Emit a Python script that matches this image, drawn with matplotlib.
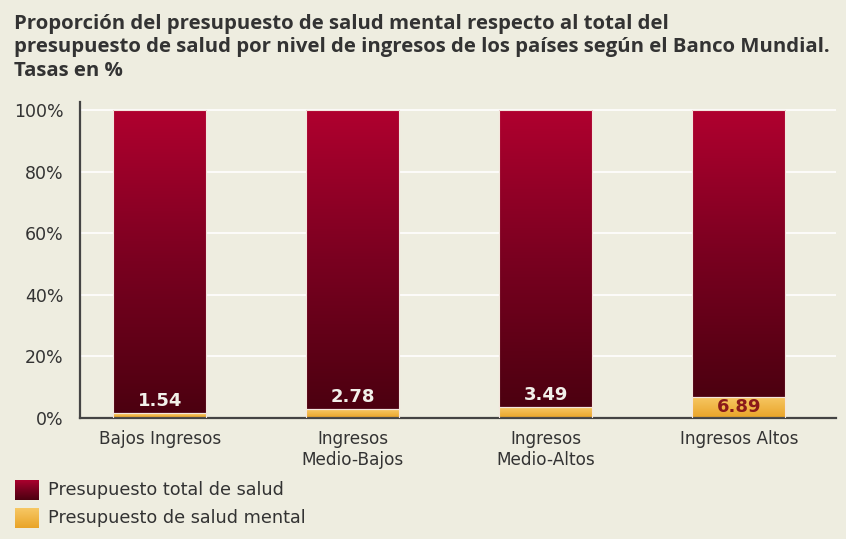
import matplotlib
matplotlib.use("Agg")
import matplotlib.pyplot as plt
import numpy as np
from matplotlib.colors import LinearSegmentedColormap
from matplotlib.patches import Rectangle

categories = ["Bajos Ingresos", "Ingresos\nMedio-Bajos", "Ingresos\nMedio-Altos", "Ingresos Altos"]
mental = [1.54, 2.78, 3.49, 6.89]
total = [100, 100, 100, 100]
yticks = [0, 20, 40, 60, 80, 100]
ytick_labels = ["0%", "20%", "40%", "60%", "80%", "100%"]
title = ("Proporción del presupuesto de salud mental respecto al total del\n"
         "presupuesto de salud por nivel de ingresos de los países según el Banco Mundial.\n"
         "Tasas en %")
legend_labels = ["Presupuesto total de salud", "Presupuesto de salud mental"]

bg = "#EEEDE0"
red_cmap = LinearSegmentedColormap.from_list("r", ["#4C0010", "#7A0020", "#B0002F"])
org_cmap = LinearSegmentedColormap.from_list("o", ["#E9A428", "#F7C865"])

plt.rcParams['font.family'] = ['DejaVu Sans']
fig = plt.figure(figsize=(8.46, 5.39), dpi=100, facecolor=bg)
ax = fig.add_axes([80/846, 1-418/539, 756/846, 316/539])
ax.set_facecolor(bg)

x = np.arange(len(categories))
w = 0.482
grad = np.linspace(0, 1, 256).reshape(-1, 1)

red_bars = ax.bar(x, [t - m for t, m in zip(total, mental)], w, bottom=mental,
                  color="none", edgecolor="none", zorder=3)
org_bars = ax.bar(x, mental, w, color="none", edgecolor="none", zorder=3)

for bars, cmap in ((red_bars, red_cmap), (org_bars, org_cmap)):
    for b in bars:
        x0, y0 = b.get_x(), b.get_y()
        x1, y1 = x0 + b.get_width(), y0 + b.get_height()
        im = ax.imshow(grad, cmap=cmap, origin="lower", aspect="auto",
                       extent=[x0, x1, y0, y1], zorder=2)
        im.set_clip_path(b)
        ax.add_patch(Rectangle((x0, y0), x1 - x0, y1 - y0, fill=False,
                               edgecolor="#F4E6DE", lw=0.8, zorder=4))

for i, m in enumerate(mental):
    if m > 5:
        ax.text(x[i], m / 2, f"{m:.2f}", ha="center", va="center",
                fontsize=13, fontweight="bold", color="#8A1A1A", zorder=5)
    else:
        ax.text(x[i], m + 4.0, f"{m:.2f}", ha="center", va="center",
                fontsize=13, fontweight="bold", color="#F2F0EA", zorder=5)

ax.set_xlim(-0.4145, 3.503)
ax.set_ylim(0, 102.6)
ax.set_yticks(yticks)
ax.set_yticklabels(ytick_labels, fontsize=12.5, color="#333333")
ax.set_xticks(x)
ax.set_xticklabels(categories, fontsize=12.2, color="#333333", linespacing=1.2)
ax.tick_params(axis="both", length=0)
ax.tick_params(axis="x", pad=9)
ax.tick_params(axis="y", pad=12)
ax.yaxis.grid(True, color="white", lw=1.2, zorder=1)
ax.set_axisbelow(True)
for s in ("top", "right"):
    ax.spines[s].set_visible(False)
for s in ("left", "bottom"):
    ax.spines[s].set_color("#444444")
    ax.spines[s].set_linewidth(1.6)

fig.text(14/846, 1-14/539, title, ha="left", va="top", fontsize=14.7,
         fontweight="bold", color="#333333", linespacing=1.23,
         family=["Open Sans", "DejaVu Sans"])

# legend
for yc, cmap, lab in ((490, red_cmap, legend_labels[0]), (518, org_cmap, legend_labels[1])):
    lax = fig.add_axes([15/846, 1-(yc+10)/539, 24/846, 20/539])
    lax.imshow(grad, cmap=cmap, origin="lower", aspect="auto")
    lax.axis("off")
    fig.text(48/846, 1-yc/539, lab, ha="left", va="center", fontsize=12.7, color="#333333")

fig.savefig("out.png", dpi=100, facecolor=bg)
